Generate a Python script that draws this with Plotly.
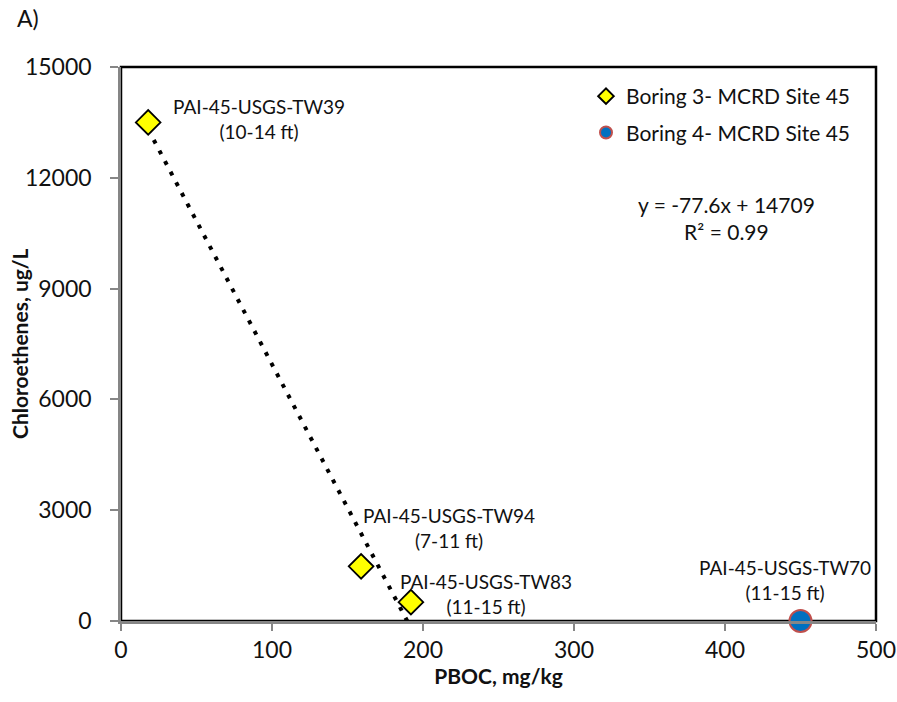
import plotly.graph_objects as go

# Boring 3 samples (PBOC vs total chloroethenes)
b3_names = ["PAI-45-USGS-TW39", "PAI-45-USGS-TW94", "PAI-45-USGS-TW83"]
b3_depths = ["(10-14 ft)", "(7-11 ft)", "(11-15 ft)"]
b3_pboc = [18, 159, 192]
b3_chloro = [13500, 1480, 510]

# Boring 4 sample
b4_names = ["PAI-45-USGS-TW70"]
b4_depths = ["(11-15 ft)"]
b4_pboc = [450]
b4_chloro = [0]

# Linear trend for Boring 3
slope = -77.6
intercept = 14709
r2 = 0.99

x_ticks = [0, 100, 200, 300, 400, 500]
y_ticks = [0, 3000, 6000, 9000, 12000, 15000]

FONT = "Lato"
AXIS_GRAY = "#868686"
TEXT = "#111"
PLOT_L, PLOT_R, PLOT_T, PLOT_B = 121, 876, 67, 621
PW, PH = PLOT_R - PLOT_L, PLOT_B - PLOT_T


def px_x(px):
    return (px - PLOT_L) / PW


def px_y(py):
    return (PLOT_B - py) / PH


fig = go.Figure()

# dotted trendline from the first sample to where it meets the x-axis
x_start = min(b3_pboc)
x_end = -intercept / slope
fig.add_trace(go.Scatter(
    x=[x_start, x_end], y=[slope * x_start + intercept, slope * x_end + intercept],
    mode="lines", line=dict(color="black", width=4, dash="4px,8px"),
    showlegend=False, hoverinfo="skip", cliponaxis=False,
))

fig.add_trace(go.Scatter(
    x=b3_pboc, y=b3_chloro, mode="markers", name="Boring 3- MCRD Site 45",
    legendgroup="b3",
    marker=dict(symbol="diamond", size=19, color="#FFFF00",
                line=dict(color="black", width=1.8)),
    cliponaxis=False,
))
fig.add_trace(go.Scatter(
    x=b4_pboc, y=b4_chloro, mode="markers", name="Boring 4- MCRD Site 45",
    legendgroup="b4",
    marker=dict(symbol="circle", size=22, color="#0070C0",
                line=dict(color="#C0504D", width=2)),
    cliponaxis=False,
))

# sample labels, offset from their points in pixels
label_offsets = [(111, 3), (88, 38), (75, 8)]
for name, depth, x, y, (dx, dy) in zip(b3_names, b3_depths, b3_pboc, b3_chloro, label_offsets):
    fig.add_annotation(x=x, y=y, text=f"{name}<br>{depth}", showarrow=False,
                       xanchor="center", xshift=dx, yshift=dy,
                       font=dict(family=FONT, size=19, color=TEXT))
for name, depth, x, y in zip(b4_names, b4_depths, b4_pboc, b4_chloro):
    fig.add_annotation(x=x, y=y, text=f"{name}<br>{depth}", showarrow=False,
                       xanchor="center", xshift=-16, yshift=41,
                       font=dict(family=FONT, size=19, color=TEXT))

# regression equation
fig.add_annotation(xref="paper", yref="paper", x=px_x(726), y=px_y(218),
                   text=f"y = {slope}x + {intercept}<br>R² = {r2}", showarrow=False,
                   xanchor="center", yanchor="middle",
                   font=dict(family=FONT, size=21, color=TEXT))

# panel letter
fig.add_annotation(xref="paper", yref="paper", x=px_x(15), y=px_y(18),
                   text="A)", showarrow=False, xanchor="left", yanchor="middle",
                   font=dict(family=FONT, size=23, color=TEXT))

# y-axis title
fig.add_annotation(xref="paper", yref="paper", x=px_x(19), y=px_y(344),
                   text="<b>Chloroethenes, ug/L</b>", textangle=-90, showarrow=False,
                   xanchor="center", yanchor="middle",
                   font=dict(family=FONT, size=21, color=TEXT))

# black frame on top and right
fig.add_shape(type="rect", xref="paper", yref="paper", x0=0, x1=1, y0=0, y1=1,
              line=dict(color="black", width=2.5), layer="below")

fig.update_layout(
    width=897, height=702,
    margin=dict(l=PLOT_L, r=897 - PLOT_R, t=PLOT_T, b=702 - PLOT_B, autoexpand=False),
    paper_bgcolor="white", plot_bgcolor="white",
    font=dict(family=FONT, color=TEXT),
    showlegend=True,
    legend=dict(x=px_x(586), y=px_y(76), xanchor="left", yanchor="top",
                bgcolor="rgba(0,0,0,0)", font=dict(family=FONT, size=21, color=TEXT),
                itemsizing="constant", traceorder="grouped", tracegroupgap=6),
    xaxis=dict(range=[0, 500], tickvals=x_ticks, ticktext=[str(v) for v in x_ticks],
               showgrid=False, zeroline=False,
               showline=True, linecolor=AXIS_GRAY, linewidth=2.5,
               ticks="outside", ticklen=7, tickwidth=2, tickcolor=AXIS_GRAY,
               tickfont=dict(family=FONT, size=23, color=TEXT),
               title=dict(text="<b>PBOC, mg/kg</b>", standoff=2,
                          font=dict(family=FONT, size=21, color=TEXT))),
    yaxis=dict(range=[0, 15000], tickvals=y_ticks, ticktext=[str(v) for v in y_ticks],
               showgrid=False, zeroline=False,
               showline=True, linecolor=AXIS_GRAY, linewidth=2.5,
               ticks="outside", ticklen=8, tickwidth=2, tickcolor=AXIS_GRAY,
               ticklabelstandoff=14,
               tickfont=dict(family=FONT, size=23, color=TEXT)),
)

fig.write_html("out.html")
